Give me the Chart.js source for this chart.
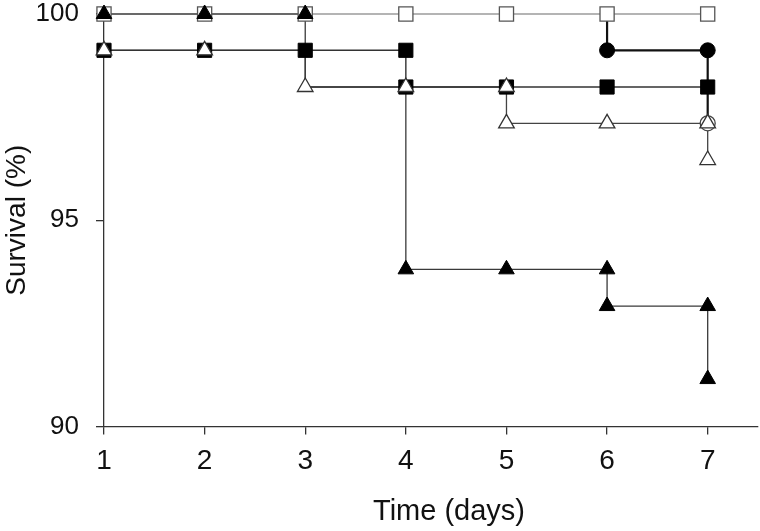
<!DOCTYPE html>
<html>
<head>
<meta charset="utf-8">
<script src="https://cdn.jsdelivr.net/npm/chart.js@4/dist/chart.umd.min.js"></script>
<style>
  html, body { margin: 0; padding: 0; background: #fff; }
  #wrap { width: 760px; height: 531px; position: relative; }
</style>
</head>
<body>
<div id="wrap"><canvas id="c" width="760" height="531"></canvas></div>
<script>
// ---- Data (Kaplan–Meier style survival, % vs day) ----
const xTickValues = [1, 2, 3, 4, 5, 6, 7];
const yTickValues = [90, 95, 100];
const xLabel = 'Time (days)';
const yLabel = 'Survival (%)';

// step paths [day, survival %]
const openSquarePath = [[1,100],[2,100],[3,100],[4,100],[5,100],[6,100],[7,100]];
const filledTrianglePath = [[1,100],[2,100],[3,100],[3,98.23],[4,98.23],[4,93.81],[5,93.81],[6,93.81],[6,92.92],[7,92.92],[7,91.15]];
const filledSquarePath = [[1,99.12],[2,99.12],[3,99.12],[4,99.12],[4,98.23],[5,98.23],[6,98.23],[7,98.23]];
const openTrianglePath = [[1,99.12],[2,99.12],[3,99.12],[3,98.23],[4,98.23],[5,98.23],[5,97.35],[6,97.35],[7,97.35],[7,96.46]];
const filledCirclePath = [[6,100],[6,99.12],[7,99.12],[7,97.35]];

// plotted symbols [day, survival %]
const openSquareMarks = [[1,100],[2,100],[3,100],[4,100],[5,100],[6,100],[7,100]];
const filledTriangleMarks = [[1,100],[2,100],[3,100],[4,93.81],[5,93.81],[6,93.81],[6,92.92],[7,92.92],[7,91.15]];
const filledSquareMarks = [[1,99.12],[2,99.12],[3,99.12],[4,99.12],[4,98.23],[5,98.23],[6,98.23],[7,98.23]];
const openTriangleMarks = [[1,99.12],[2,99.12],[3,98.23],[4,98.23],[5,98.23],[5,97.35],[6,97.35],[7,97.35],[7,96.46]];
const filledCircleMarks = [[6,99.12],[7,99.12]];
const openCircleMarks = [[7,97.35]];

const toXY = arr => arr.map(p => ({x: p[0], y: p[1]}));

function lineDs(path, color, width) {
  return {
    type: 'line', data: toXY(path), showLine: true, fill: false,
    borderColor: color, borderWidth: width, pointRadius: 0, tension: 0,
    clip: false, order: 100
  };
}
function markDs(marks, style, radius, bg, border, bw, order) {
  return {
    type: 'line', data: toXY(marks), showLine: false,
    pointStyle: style, pointRadius: radius, pointBackgroundColor: bg,
    pointBorderColor: border, pointBorderWidth: bw, clip: false, order: order
  };
}

const datasets = [
  lineDs(openSquarePath, '#6a6a6a', 1.2),
  lineDs(filledTrianglePath, '#3a3a3a', 1.3),
  lineDs(filledSquarePath, '#333', 1.4),
  lineDs(openTrianglePath, '#444', 1.3),
  lineDs(filledCirclePath, '#111', 2.2),
  markDs(openSquareMarks, 'rect', 10, '#fff', '#555', 1.3, 6),
  markDs(openCircleMarks, 'circle', 7.5, '#fff', '#444', 1.3, 5),
  markDs(filledSquareMarks, 'rect', 10, '#000', '#000', 1, 4),
  markDs(filledCircleMarks, 'circle', 7.5, '#000', '#000', 1, 3),
  markDs(openTriangleMarks, 'triangle', 9, '#fff', '#333', 1.3, 2),
  markDs(filledTriangleMarks, 'triangle', 9, '#000', '#000', 1, 1)
];

const axisColor = '#333';
const fontFamily = '"Liberation Sans", Arial, sans-serif';

// x-axis title, drawn slightly right of the plot-area centre as in the original figure
const xTitlePlugin = {
  id: 'xTitle',
  afterDraw(chart) {
    const {ctx, chartArea} = chart;
    ctx.save();
    ctx.font = '29px ' + fontFamily;
    ctx.fillStyle = '#111';
    ctx.textAlign = 'center';
    ctx.textBaseline = 'alphabetic';
    ctx.fillText(xLabel, (chartArea.left + chartArea.right) / 2 + 18, chart.height - 11);
    ctx.restore();
  }
};

new Chart(document.getElementById('c'), {
  type: 'line',
  data: { datasets },
  plugins: [xTitlePlugin],
  options: {
    responsive: false, animation: false, events: [],
    layout: { autoPadding: false, padding: { left: 0, top: 14, right: 2, bottom: 0 } },
    plugins: { legend: { display: false }, tooltip: { enabled: false } },
    scales: {
      x: {
        type: 'linear', min: 1, max: 7.5,
        afterBuildTicks: s => { s.ticks = xTickValues.map(v => ({value: v})); },
        afterFit: s => { s.height = 104.5; s.paddingLeft = 0; s.paddingRight = 0; },
        border: { display: true, color: axisColor, width: 1.3 },
        grid: { drawOnChartArea: false, drawTicks: true, tickLength: 8, color: axisColor, lineWidth: 1.3 },
        ticks: { color: '#111', font: { family: fontFamily, size: 28 }, padding: 10, maxRotation: 0, autoSkip: false },
        title: { display: false }
      },
      y: {
        type: 'linear', min: 90, max: 100,
        afterBuildTicks: s => { s.ticks = yTickValues.map(v => ({value: v})); },
        afterFit: s => { s.width = 104; s.paddingTop = 0; s.paddingBottom = 0; },
        border: { display: true, color: axisColor, width: 1.3 },
        grid: { drawOnChartArea: false, drawTicks: true, tickLength: 8, color: axisColor, lineWidth: 1.3 },
        ticks: { color: '#111', font: { family: fontFamily, size: 26 }, padding: 17 },
        title: { display: true, text: yLabel, color: '#111', font: { family: fontFamily, size: 28 }, padding: { top: 0, bottom: 0 } }
      }
    }
  }
});
</script>
</body>
</html>
